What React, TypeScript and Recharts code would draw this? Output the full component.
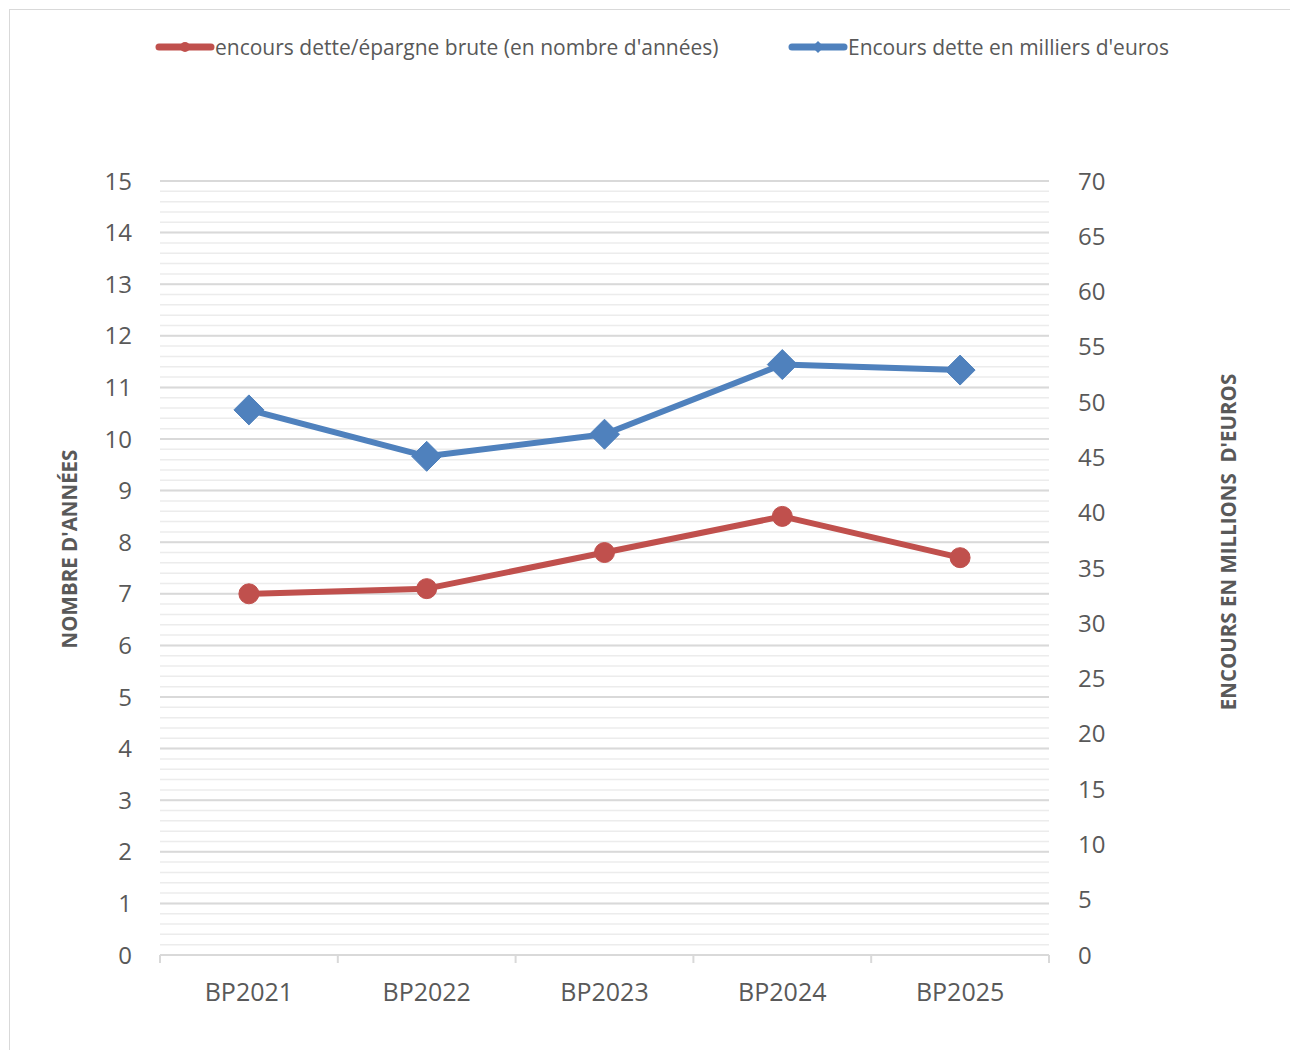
import {
  ComposedChart,
  Line,
  XAxis,
  YAxis,
  CartesianGrid,
  Label,
} from "recharts";

const years = ["BP2021", "BP2022", "BP2023", "BP2024", "BP2025"];
// encours dette / épargne brute, in years (left axis)
const ratioYears = [7.0, 7.1, 7.8, 8.5, 7.7];
// encours dette, millions of euros (right axis)
const debtMillions = [49.3, 45.1, 47.1, 53.4, 52.9];

const leftTicks = [0, 1, 2, 3, 4, 5, 6, 7, 8, 9, 10, 11, 12, 13, 14, 15];
const rightTicks = [0, 5, 10, 15, 20, 25, 30, 35, 40, 45, 50, 55, 60, 65, 70];
// minor gridlines every 0.2 year
const minorTicks: number[] = [];
for (let i = 0; i <= 75; i++) minorTicks.push(i / 5);

const RED = "#C0504D";
const BLUE = "#4F81BD";
const TXT = "#595959";
const GRID = "#d9d9d9";
const FONT = "'Open Sans', sans-serif";
const X_TICK_GAP = 28; // distance between axis line and label anchor

const data = years.map((year, i) => ({
  year,
  ratio: ratioYears[i],
  debt: debtMillions[i],
}));

// category label plus Excel-style tick marks between categories
function CategoryTick(props: any) {
  const { x, y, payload, index, visibleTicksCount } = props;
  const half = payload?.offset ?? 0;
  const axisY = y - X_TICK_GAP;
  const isLast = index === visibleTicksCount - 1;
  return (
    <g>
      <line x1={x - half} y1={axisY} x2={x - half} y2={axisY + 8} stroke={GRID} strokeWidth={2} />
      {isLast && (
        <line x1={x + half} y1={axisY} x2={x + half} y2={axisY + 8} stroke={GRID} strokeWidth={2} />
      )}
      <text
        x={x}
        y={y}
        dy="0.71em"
        textAnchor="middle"
        fill={TXT}
        fontSize={25}
        fontFamily={FONT}
      >
        {payload.value}
      </text>
    </g>
  );
}

function Diamond(props: any) {
  const { cx, cy } = props;
  if (cx == null || cy == null) return null;
  const r = 15;
  return (
    <polygon
      points={`${cx},${cy - r} ${cx + r},${cy} ${cx},${cy + r} ${cx - r},${cy}`}
      fill={BLUE}
      stroke={BLUE}
    />
  );
}

function AxisTitle(props: any) {
  const { viewBox, text, dx, dy } = props;
  const x = viewBox.x + dx;
  const y = viewBox.y + viewBox.height / 2 + dy;
  return (
    <text
      x={x}
      y={y}
      transform={`rotate(-90, ${x}, ${y})`}
      textAnchor="middle"
      dominantBaseline="central"
      fill={TXT}
      fontSize={20.5}
      fontWeight="bold"
      fontFamily={FONT}
      style={{ whiteSpace: "pre" }}
    >
      {text}
    </text>
  );
}

function LegendItem({ color, label, diamond, left }: any) {
  return (
    <div
      style={{
        position: "absolute",
        left,
        top: 33,
        display: "flex",
        alignItems: "center",
        height: 28,
      }}
    >
      <svg width={60} height={20}>
        <line x1={4} y1={10} x2={56} y2={10} stroke={color} strokeWidth={7} strokeLinecap="round" />
        {diamond ? (
          <polygon points="30,4 36,10 30,16 24,10" fill={color} />
        ) : (
          <circle cx={30} cy={10} r={5} fill={color} />
        )}
      </svg>
      <span style={{ color: TXT, fontSize: 21, fontFamily: FONT, whiteSpace: "nowrap" }}>
        {label}
      </span>
    </div>
  );
}

export default function App() {
  return (
    <div
      style={{
        position: "fixed",
        left: 0,
        top: 0,
        width: 1290,
        height: 1050,
        overflow: "hidden",
        background: "#fff",
      }}
    >
      <div
        style={{
          position: "absolute",
          left: 9,
          top: 9,
          width: 1300,
          height: 1100,
          border: "1.5px solid #d9d9d9",
        }}
      />
      <LegendItem color={RED} left={155} label="encours dette/épargne brute (en nombre d'années)" />
      <LegendItem color={BLUE} diamond left={788} label="Encours dette en milliers d'euros" />
      <div style={{ position: "absolute", left: 0, top: 0 }}>
        <ComposedChart
          width={1290}
          height={1050}
          data={data}
          margin={{ top: 181, right: 141, bottom: 34, left: 60 }}
        >
          <CartesianGrid
            yAxisId="left"
            xAxisId="cat"
            vertical={false}
            horizontalValues={minorTicks}
            stroke="#ececec"
            strokeWidth={1.5}
          />
          <CartesianGrid
            yAxisId="left"
            xAxisId="cat"
            vertical={false}
            stroke={GRID}
            strokeWidth={2}
          />
          <XAxis
            xAxisId="cat"
            dataKey="year"
            scale="band"
            height={61}
            interval={0}
            axisLine={{ stroke: GRID, strokeWidth: 2 }}
            tickLine={false}
            tickSize={6}
            tickMargin={22}
            tick={<CategoryTick />}
          />
          <YAxis
            yAxisId="left"
            domain={[0, 15]}
            ticks={leftTicks}
            interval={0}
            width={100}
            axisLine={false}
            tickLine={false}
            tickMargin={22}
            tick={{ fill: TXT, fontSize: 24, fontFamily: FONT }}
            label={<Label content={<AxisTitle text="NOMBRE D'ANNÉES" dx={9} dy={-19} />} />}
          />
          <YAxis
            yAxisId="right"
            orientation="right"
            domain={[0, 70]}
            ticks={rightTicks}
            interval={0}
            width={100}
            axisLine={false}
            tickLine={false}
            tickMargin={23}
            tick={{ fill: TXT, fontSize: 24, fontFamily: FONT, textAnchor: "start" }}
            label={
              <Label
                content={<AxisTitle text={"ENCOURS EN MILLIONS\u00a0 D'EUROS"} dx={179} dy={-26} />}
              />
            }
          />
          <Line
            xAxisId="cat"
            yAxisId="left"
            dataKey="ratio"
            stroke={RED}
            strokeWidth={6}
            strokeLinejoin="round"
            dot={{ r: 10, fill: RED, stroke: RED, strokeWidth: 1 }}
            isAnimationActive={false}
          />
          <Line
            xAxisId="cat"
            yAxisId="right"
            dataKey="debt"
            stroke={BLUE}
            strokeWidth={6}
            strokeLinejoin="round"
            dot={<Diamond />}
            isAnimationActive={false}
          />
        </ComposedChart>
      </div>
    </div>
  );
}
